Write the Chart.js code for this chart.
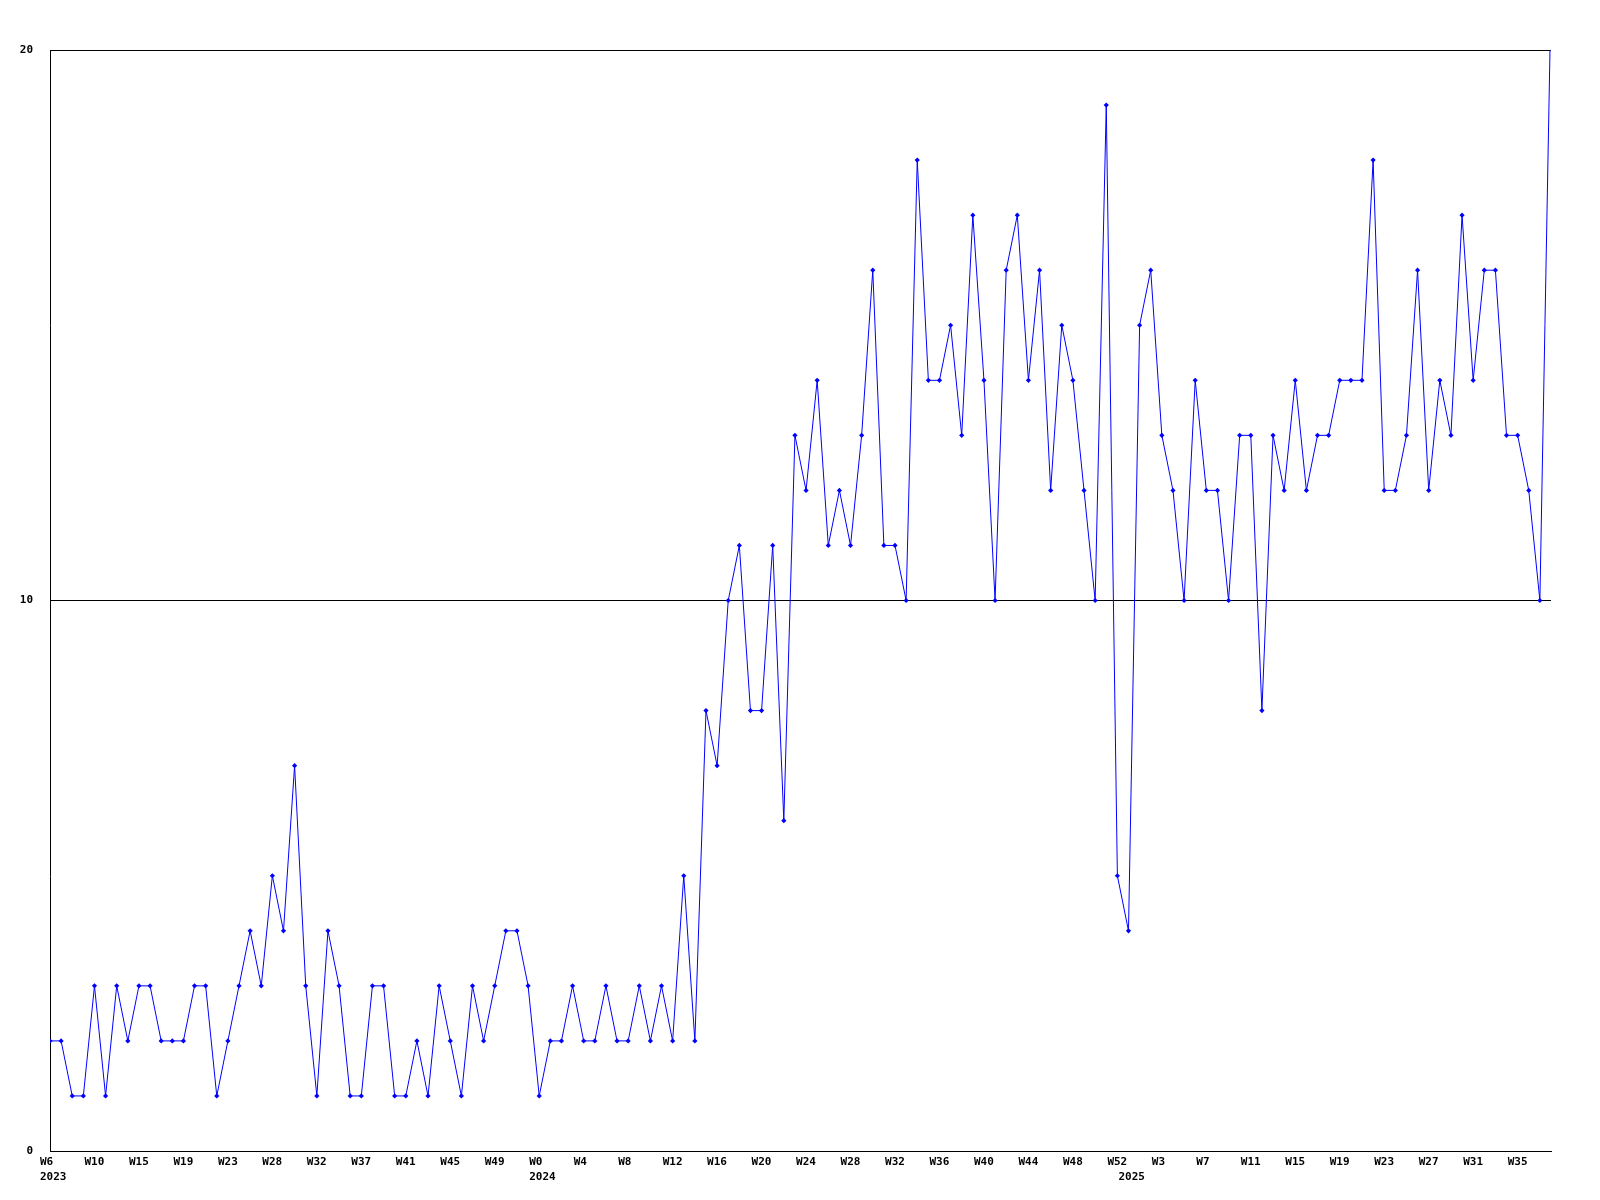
<!DOCTYPE html>
<html>
<head>
<meta charset="utf-8">
<script src="https://cdn.jsdelivr.net/npm/chart.js@4.4.0/dist/chart.umd.min.js"></script>
<style>
  html, body { margin: 0; padding: 0; background: #fff; }
  #wrap { width: 1600px; height: 1200px; }
</style>
</head>
<body>
<div id="wrap"><canvas id="weekly-chart" width="1600" height="1200"></canvas></div>
<script>
// one value per week (last one runs off the top)
var values = [
    2, 2, 1, 1, 3, 1, 3, 2, 3, 3, 2, 2, 2, 3, 3, 1, 2, 3, 4, 3,
    5, 4, 7, 3, 1, 4, 3, 1, 1, 3, 3, 1, 1, 2, 1, 3, 2, 1, 3, 2,
    3, 4, 4, 3, 1, 2, 2, 3, 2, 2, 3, 2, 2, 3, 2, 3, 2, 5, 2, 8,
    7, 10, 11, 8, 8, 11, 6, 13, 12, 14, 11, 12, 11, 13, 16, 11, 11, 10, 18, 14,
    14, 15, 13, 17, 14, 10, 16, 17, 14, 16, 12, 15, 14, 12, 10, 19, 5, 4, 15, 16,
    13, 12, 10, 14, 12, 12, 10, 13, 13, 8, 13, 12, 14, 12, 13, 13, 14, 14, 14, 18,
    12, 12, 13, 16, 12, 14, 13, 17, 14, 16, 16, 13, 13, 12, 10, 21
];

// week labels, one every 4th point
var weekTicks = [
    "W6", "W10", "W15", "W19", "W23", "W28", "W32", "W37", "W41", "W45", "W49",
    "W0", "W4", "W8", "W12", "W16", "W20", "W24", "W28", "W32", "W36", "W40", "W44", "W48", "W52",
    "W3", "W7", "W11", "W15", "W19", "W23", "W27", "W31", "W35"
];
var tickEvery = 4;

// years and the point where each one starts
var years = ["2023", "2024", "2025"];
var yearStart = [0, 44, 97];

var yTicks = [0, 10, 20];

var labels = values.map((v, i) => i);

var ctx = document.getElementById("weekly-chart").getContext("2d");
var tickFont = { family: "'DejaVu Sans Mono', monospace", size: 11, weight: "bold", lineHeight: "15px" };

var chart = new Chart(ctx, {
    type: "line",
    data: {
        labels: labels,
        datasets: [{
            data: values,
            borderColor: "#0000ff",
            borderWidth: 1,
            tension: 0,
            fill: false,
            pointStyle: "rectRot",
            pointRadius: 2.6,
            pointBorderWidth: 0,
            pointBackgroundColor: "#0000ff"
        }]
    },
    options: {
        responsive: false,
        animation: false,
        layout: { padding: { top: 50, right: 49, left: 0, bottom: 0 } },
        plugins: {
            legend: { display: false },
            tooltip: { enabled: false }
        },
        scales: {
            x: {
                type: "linear",
                min: 0,
                max: values.length - 1,
                grid: { display: false },
                border: { display: true, color: "#000", width: 1 },
                afterBuildTicks: function(axis) {
                    var pos = weekTicks.map((w, i) => i * tickEvery);
                    yearStart.forEach(function(p) {
                        if (pos.indexOf(p) < 0) pos.push(p);
                    });
                    pos.sort((a, b) => a - b);
                    axis.ticks = pos.map(p => ({ value: p }));
                },
                afterFit: function(axis) { axis.height = 49; },
                ticks: {
                    autoSkip: false,
                    maxRotation: 0,
                    align: "start",
                    labelOffset: -10,
                    padding: -4,
                    color: "#000",
                    font: tickFont,
                    callback: function(value) {
                        var w = value % tickEvery === 0 ? (weekTicks[value / tickEvery] || "") : "";
                        var yi = yearStart.indexOf(value);
                        return yi >= 0 ? [w, years[yi]] : w;
                    }
                }
            },
            y: {
                min: 0,
                max: 20,
                grid: { color: "#000", lineWidth: 1, drawTicks: false },
                border: { display: true, color: "#000", width: 1 },
                afterBuildTicks: function(axis) {
                    axis.ticks = yTicks.map(v => ({ value: v }));
                },
                afterFit: function(axis) { axis.width = 50; },
                ticks: {
                    padding: 17,
                    color: "#000",
                    font: tickFont
                }
            }
        }
    }
});
</script>
</body>
</html>
